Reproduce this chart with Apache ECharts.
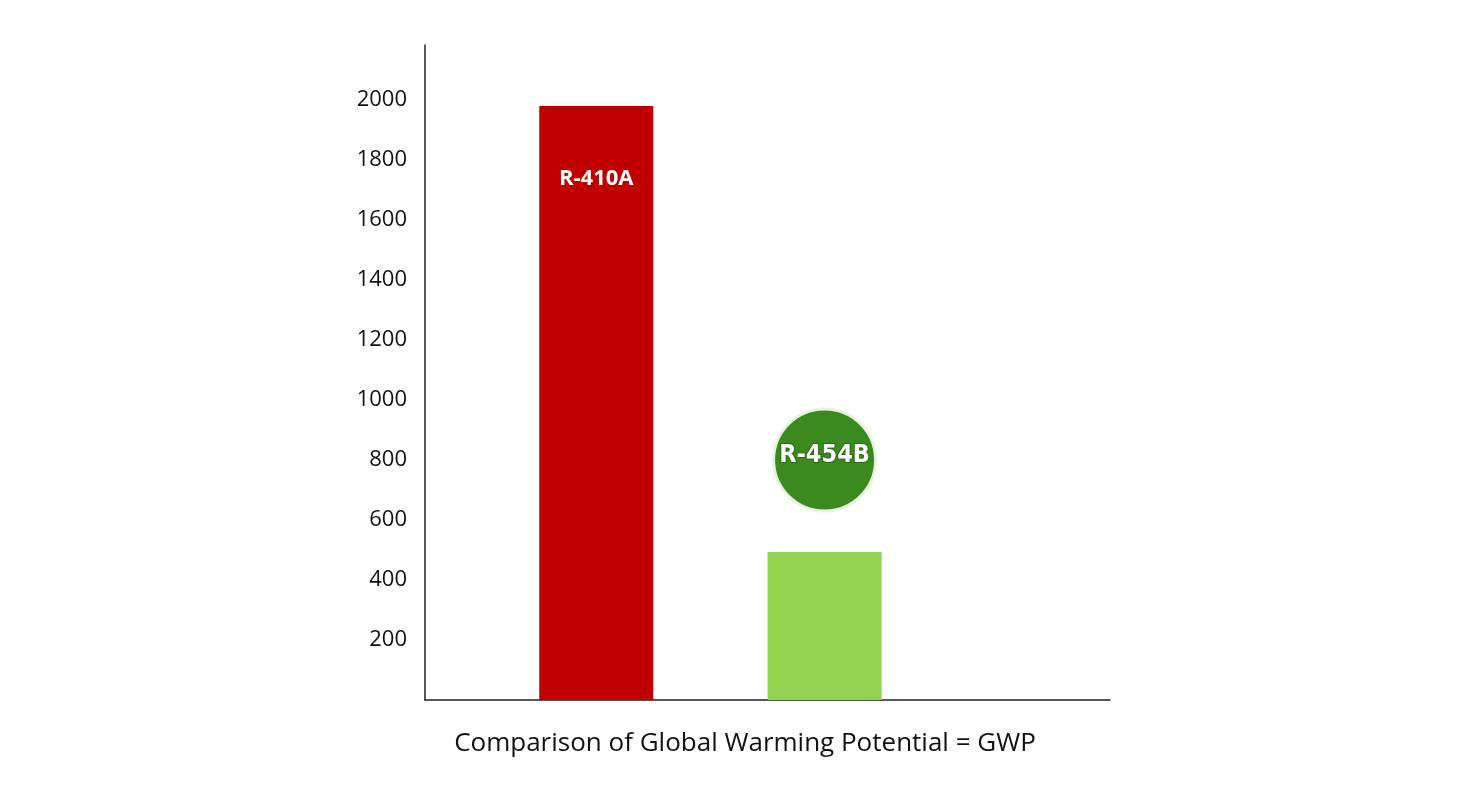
<!DOCTYPE html>
<html><head><meta charset="utf-8">
<script src="https://cdn.jsdelivr.net/npm/echarts@6/dist/echarts.min.js"></script>
<style>html,body{margin:0;background:#fff}#c{width:1458px;height:800px}</style>
</head><body><div id="c"></div>
<script>
const categories = ['R-410A', 'R-454B'];
const gwpValues = [1980, 493];
const badgeValue = 800;
const barColors = ['#c00000', '#92d050'];
const yTicks = [200, 400, 600, 800, 1000, 1200, 1400, 1600, 1800, 2000];

const chart = echarts.init(document.getElementById('c'));
chart.setOption({
  animation: false,
  title: {text: 'Comparison of Global Warming Potential = GWP', left: 740, top: 726, textAlign: 'center',
    textStyle: {fontFamily: 'Open Sans', fontWeight: 'normal', fontSize: 26, color: '#111'}},
  grid: {left: 425, right: 348, top: 45, bottom: 100},
  xAxis: {type: 'value', min: 0, max: 3, axisLine: {show: true, onZero: false, lineStyle: {color: '#222', width: 1.5}},
    axisTick: {show: false}, axisLabel: {show: false}, splitLine: {show: false}},
  yAxis: {type: 'value', min: 0, max: 2183, interval: 200,
    axisLine: {show: true, lineStyle: {color: '#222', width: 1.5}}, axisTick: {show: false}, splitLine: {show: false},
    axisLabel: {margin: 18, fontFamily: 'Open Sans', fontSize: 22, color: '#111', padding: [22, 0, 0, 0],
      formatter: v => yTicks.includes(v) ? String(v) : ''}},
  series: [{
    type: 'bar', barWidth: 114,
    data: gwpValues.map((v, i) => ({value: [i + 0.75, v], itemStyle: {color: barColors[i]},
      label: {show: i === 0, position: 'insideTop', distance: 62, formatter: categories[i],
        color: '#fff', fontWeight: 'bold', fontSize: 22, fontFamily: 'Open Sans'}}))
  }, {
    type: 'scatter', symbol: 'circle', symbolSize: 102,
    itemStyle: {color: '#3b8a1f', borderColor: '#e8f3de', borderWidth: 3, opacity: 1},
    data: [{value: [1.75, badgeValue], name: categories[1]}],
    label: {show: true, position: 'inside', formatter: '{b}', color: '#fff', fontWeight: 'bold',
      fontSize: 25, fontFamily: 'DejaVu Sans Condensed', textBorderColor: '#2b6a12', textBorderWidth: 2, offset: [0, -4]}
  }]
});
</script></body></html>
